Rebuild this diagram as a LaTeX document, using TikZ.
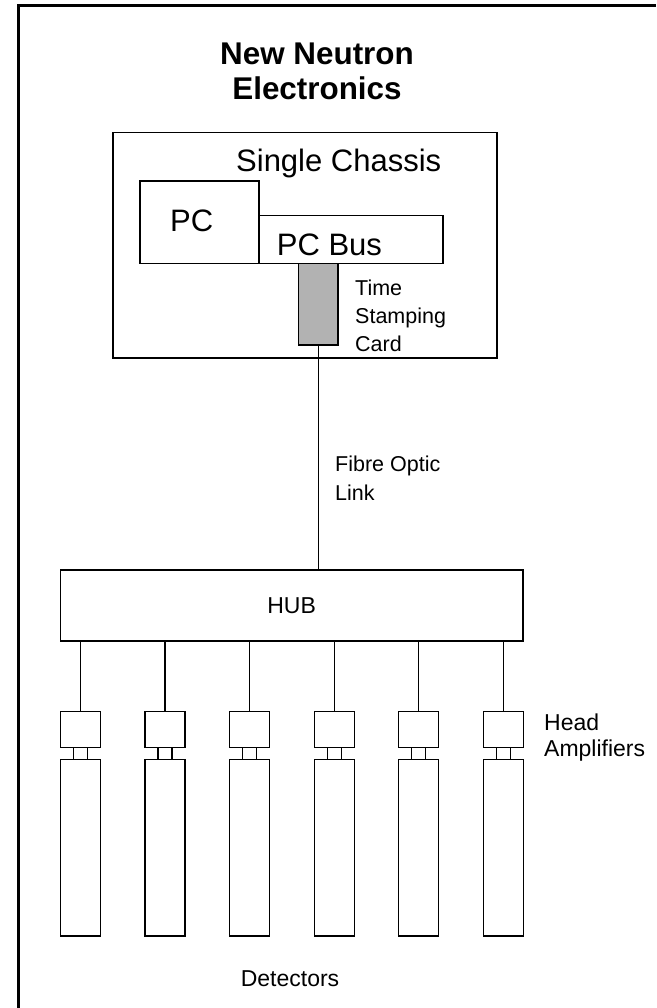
\documentclass[tikz,border=0pt]{standalone}
\usepackage{fontspec}
\setmainfont{Liberation Sans}
\usetikzlibrary{positioning, calc}
\definecolor{cardgray}{RGB}{178,178,178}

\begin{document}
\begin{tikzpicture}[
    x=1pt, y=-1pt,
    box/.style={draw, line width=1.2pt, inner sep=0pt, outer sep=0pt, anchor=north west},
    wire/.style={line width=1.2pt},
    lbl/.style={inner sep=0pt, anchor=base west, align=left},
    big/.style={font=\fontsize{31}{35}\selectfont},
    small/.style={font=\fontsize{21.5}{28.3}\selectfont},
    mid/.style={font=\fontsize{23}{25}\selectfont},
]
\useasboundingbox (0,0) rectangle (656,1008);
\draw[line width=2.6pt] (656,5.7) -- (18.7,5.7) -- (18.7,1008);

\node[font=\fontsize{31.4}{35}\selectfont\bfseries, align=center, anchor=base, inner sep=0pt] (title) at (317,100) {New Neutron\\Electronics};

\node[box, minimum width=384pt, minimum height=225.3pt] (chassis) at (113,132.7) {};
\node[box, minimum width=119pt, minimum height=82.3pt] (pc) at (140,181) {};
\node[box, minimum width=184pt, minimum height=47.6pt] (pcbus) at (259,215.7) {};
\node[box, fill=cardgray, minimum width=39.3pt, minimum height=81.7pt] (card) at (298.7,263.3) {};

\node[lbl, big] (chassis_lbl) at (236,171.7) {Single Chassis};
\node[lbl, big] (pc_lbl) at (170,231.7) {PC};
\node[lbl, big] (pcbus_lbl) at (276.7,255) {PC Bus};
\node[lbl, small] (card_lbl) at (355,351.7) {Time\\Stamping\\Card};

\node[box, mid, minimum width=462.7pt, minimum height=71pt] (hub) at (60.3,570) {HUB};
\draw[wire] (card.south) -- (card.south |- hub.north);
\node[lbl, small] (link_lbl) at (335,500) {Fibre Optic\\Link};

\foreach \i in {0,...,5}{
  \node[box, minimum width=40pt, minimum height=36pt] (amp\i) at ({60.3+84.6*\i}, 711.7) {};
  \node[box, anchor=north, minimum width=14pt, minimum height=11.8pt] (plug\i) at (amp\i.south) {};
  \node[box, anchor=north, minimum width=40pt, minimum height=176.5pt] (det\i) at (plug\i.south) {};
  \draw[wire] (amp\i.north |- hub.south) -- (amp\i.north);
}

\node[lbl, mid, font=\fontsize{23}{26}\selectfont] (amp_lbl) at (544,756) {Head\\Amplifiers};
\node[mid, anchor=base, inner sep=0pt] (det_lbl) at (290,986) {Detectors};

\end{tikzpicture}
\end{document}
